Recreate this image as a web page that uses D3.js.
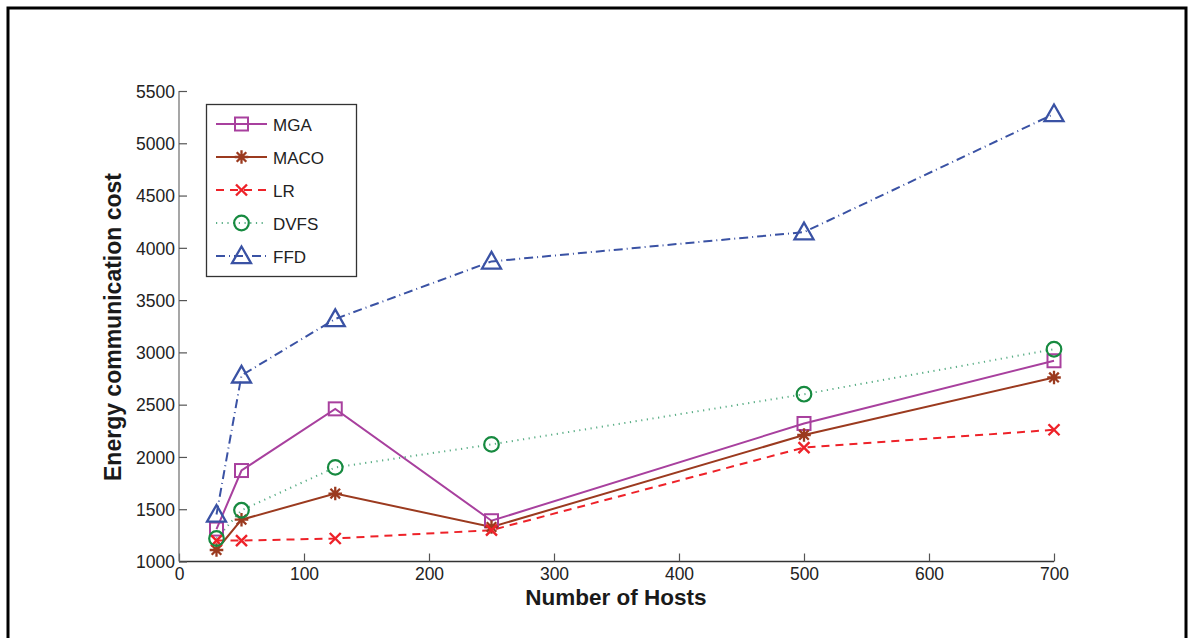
<!DOCTYPE html>
<html><head><meta charset="utf-8">
<script src="https://cdn.jsdelivr.net/npm/d3@7"></script>
<style>body{margin:0;background:#fff}svg{display:block}text{font-family:"Liberation Sans",Arial,Helvetica,sans-serif}</style>
</head><body><svg id="c" width="1189" height="638"></svg>
<script>
const hosts = [30, 50, 125, 250, 500, 700];
const seriesNames = ["MGA", "MACO", "LR", "DVFS", "FFD"];
const mga  = [1310, 1870, 2460, 1390, 2320, 2920];
const maco = [1110, 1400, 1650, 1330, 2210, 2760];
const lr   = [1200, 1200, 1220, 1300, 2090, 2260];
const dvfs = [1220, 1490, 1900, 2120, 2600, 3030];
const ffd  = [1450, 2780, 3320, 3870, 4150, 5280];
const xTicks = [0, 100, 200, 300, 400, 500, 600, 700];
const yTicks = [1000, 1500, 2000, 2500, 3000, 3500, 4000, 4500, 5000, 5500];

const styles = {
  MGA:  {color:"#a8409e", line:"#a8409e", dash:null, w:2, marker:"square"},
  MACO: {color:"#9b3a1f", line:"#9b3a1f", dash:null, w:2, marker:"star"},
  LR:   {color:"#ee2229", line:"#ee2229", dash:"8,6", w:2, marker:"x"},
  DVFS: {color:"#178a40", line:"#5aae86", dash:"1.2,4.5", w:2, marker:"circle"},
  FFD:  {color:"#3a52a4", line:"#3a52a4", dash:"9,4,1,4", w:2, marker:"triangle"}
};
const data = {MGA:mga, MACO:maco, LR:lr, DVFS:dvfs, FFD:ffd};

const svg = d3.select("#c");
svg.append("path").attr("d","M8,645 V8 H1186 V645").attr("fill","none").attr("stroke","#000").attr("stroke-width",3);

const x = d3.scaleLinear().domain([0,700]).range([179,1054]);
const y = d3.scaleLinear().domain([1000,5500]).range([561.5,91]);

const xAxis = svg.append("g").attr("transform","translate(0,561.5)")
  .call(d3.axisBottom(x).tickValues(xTicks).tickSize(-8).tickPadding(6).tickFormat(d3.format("d")));
const yAxis = svg.append("g").attr("transform","translate(179,0)")
  .call(d3.axisLeft(y).tickValues(yTicks).tickSize(-8).tickPadding(4).tickFormat(d3.format("d")));
[xAxis,yAxis].forEach(a=>{
  a.select(".domain").attr("stroke","#333").attr("stroke-width",1.3);
  a.selectAll(".tick line").attr("stroke","#555").attr("stroke-width",1.2);
  a.selectAll(".tick text").attr("fill","#222").style("font-size","17.5px").style("font-family","Liberation Sans, Arial, sans-serif");
});
xAxis.select(".domain").attr("d","M179,0H1054");
yAxis.select(".domain").attr("d","M0,561.5V91").attr("stroke","#777");
yAxis.selectAll(".tick text").attr("dy","0.36em");

svg.append("text").attr("x",616).attr("y",605).attr("text-anchor","middle")
  .style("font-size","22.5px").style("font-weight","bold").attr("fill","#1a1a1a").text("Number of Hosts");
svg.append("text").attr("transform","translate(121,327) rotate(-90)").attr("text-anchor","middle")
  .style("font-size","23px").style("font-weight","bold").attr("fill","#1a1a1a").text("Energy communication cost");

function drawMarker(g, type, cx, cy, color){
  if(type==="square"){
    g.append("rect").attr("x",cx-6.5).attr("y",cy-6.5).attr("width",13).attr("height",13)
      .attr("fill","none").attr("stroke",color).attr("stroke-width",2);
  } else if(type==="circle"){
    g.append("circle").attr("cx",cx).attr("cy",cy).attr("r",7.3)
      .attr("fill","none").attr("stroke",color).attr("stroke-width",2.2);
  } else if(type==="x"){
    const s=5.5;
    g.append("path").attr("d",`M${cx-s},${cy-s}L${cx+s},${cy+s}M${cx-s},${cy+s}L${cx+s},${cy-s}`)
      .attr("stroke",color).attr("stroke-width",2.4).attr("fill","none");
  } else if(type==="star"){
    const s=6.8, d=4.8;
    g.append("path").attr("d",`M${cx},${cy-s}V${cy+s}M${cx-s},${cy}H${cx+s}M${cx-d},${cy-d}L${cx+d},${cy+d}M${cx-d},${cy+d}L${cx+d},${cy-d}`)
      .attr("stroke",color).attr("stroke-width",2.3).attr("fill","none");
  } else if(type==="triangle"){
    const h=9.5;
    g.append("path").attr("d",`M${cx},${cy-h}L${cx+h},${cy+h*0.75}L${cx-h},${cy+h*0.75}Z`)
      .attr("fill","none").attr("stroke",color).attr("stroke-width",2.3);
  }
}

const lineGen = d3.line().x((d,i)=>x(hosts[i])).y(d=>y(d));
const plot = svg.append("g");
seriesNames.forEach(name=>{
  const st = styles[name];
  plot.append("path").datum(data[name]).attr("d",lineGen).attr("fill","none")
    .attr("stroke",st.line).attr("stroke-width",st.w).attr("stroke-dasharray",st.dash);
});
seriesNames.forEach(name=>{
  const st = styles[name];
  data[name].forEach((v,i)=>drawMarker(plot, st.marker, x(hosts[i]), y(v), st.color));
});

// legend
const lg = svg.append("g");
lg.append("rect").attr("x",206.5).attr("y",104.5).attr("width",150).attr("height",172)
  .attr("fill","#fff").attr("stroke","#333").attr("stroke-width",1.3);
seriesNames.forEach((name,i)=>{
  const st = styles[name];
  const ly = 124 + i*33;
  lg.append("line").attr("x1",216).attr("x2",267).attr("y1",ly).attr("y2",ly)
    .attr("stroke",st.line).attr("stroke-width",st.w).attr("stroke-dasharray",st.dash);
  drawMarker(lg, st.marker, 241.5, ly, st.color);
  lg.append("text").attr("x",273).attr("y",ly+6.5).style("font-size","17px").attr("fill","#222").text(name);
});
</script></body></html>
